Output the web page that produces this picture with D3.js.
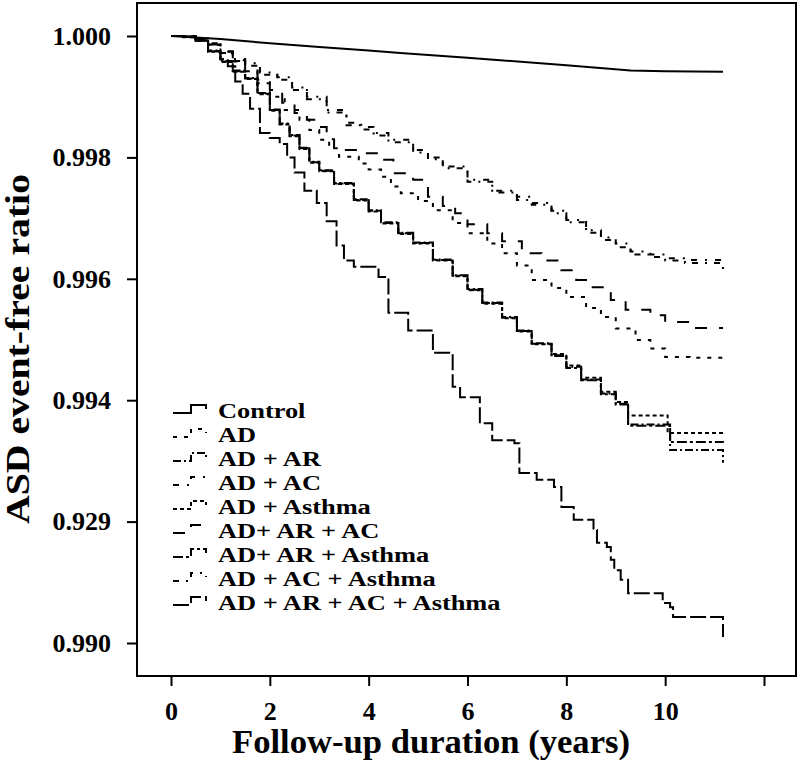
<!DOCTYPE html>
<html><head><meta charset="utf-8">
<script src="https://cdn.jsdelivr.net/npm/d3@7"></script>
<style>body{margin:0;background:#fff}</style>
</head><body>
<svg id="chart" width="800" height="762"></svg>
<script>
const xTicks = [0, 2, 4, 6, 8, 10, 12];
const xTickLabels = ["0", "2", "4", "6", "8", "10", ""];
const yTicks = [1.000, 0.998, 0.996, 0.994, 0.992, 0.990];
const yTickLabels = ["1.000", "0.998", "0.996", "0.994", "0.929", "0.990"];
const seriesNames = ["Control", "AD", "AD + AR", "AD + AC", "AD + Asthma", "AD+ AR + AC", "AD+ AR + Asthma", "AD + AC + Asthma", "AD + AR + AC + Asthma"];

const control = [[0,1.0],[1,0.99995],[2,0.99988],[3,0.99982],[4,0.99976],[4.64,0.99972],[6,0.99964],[6.66,0.99960],[8,0.99952],[9.3,0.99943],[10,0.99942],[11.17,0.99941]];
const ad = [[0,1],[0.25,0.99999],[0.5,0.99995],[0.75,0.99985],[1.0,0.99972],[1.25,0.99958],[1.5,0.99942],[1.75,0.99922],[2.0,0.99900],[2.3,0.99878],[2.6,0.99862],[2.8,0.99845],[3.0,0.99829],[3.2,0.99815],[3.4,0.99801],[3.8,0.99790],[4.0,0.99780],[4.25,0.99768],[4.45,0.99752],[4.65,0.99741],[5.0,0.99728],[5.3,0.99713],[5.7,0.99692],[6.0,0.99675],[6.4,0.99658],[6.7,0.99642],[7.0,0.99622],[7.3,0.99598],[7.7,0.99585],[8.0,0.99570],[8.4,0.99552],[8.7,0.99537],[9.0,0.99518],[9.4,0.99499],[9.7,0.99485],[10.0,0.99471],[10.5,0.99470],[11.17,0.99463]];
const adAr = [[0,1],[0.25,0.99999],[0.5,0.99993],[0.75,0.99976],[1.0,0.99959],[1.25,0.99943],[1.5,0.99931],[1.75,0.99906],[2.0,0.99879],[2.2,0.99856],[2.4,0.99837],[2.6,0.99816],[2.8,0.99793],[3.0,0.99779],[3.3,0.99758],[3.7,0.99731],[4.0,0.99713],[4.25,0.99693],[4.6,0.99676],[4.9,0.99660],[5.3,0.99632],[5.7,0.99606],[6.0,0.99583],[6.3,0.99561],[6.7,0.99537],[7.0,0.99515],[7.3,0.99494],[7.7,0.99474],[8.0,0.99455],[8.3,0.99434],[8.7,0.99411],[9.0,0.99394],[9.25,0.99360],[10.1,0.99318],[11.17,0.99297]];
const adAc = [[0,1],[0.25,0.99999],[0.5,0.99996],[0.75,0.99988],[1.0,0.99975],[1.25,0.99962],[1.5,0.99955],[1.8,0.99940],[2.15,0.99932],[2.45,0.99915],[2.75,0.99900],[3.15,0.99878],[3.55,0.99857],[3.85,0.99850],[4.1,0.99840],[4.4,0.99829],[4.9,0.99812],[5.2,0.99800],[5.5,0.99785],[6.0,0.99763],[6.5,0.99745],[7.0,0.99735],[7.3,0.99725],[7.7,0.99712],[8.0,0.99697],[8.4,0.99680],[8.7,0.99668],[9.0,0.99658],[9.3,0.99645],[9.7,0.99640],[10.0,0.99634],[10.4,0.99631],[11.17,0.99631]];
const adAsthma = [[0,1],[0.25,0.99999],[0.5,0.99992],[0.75,0.99974],[1.0,0.99957],[1.25,0.99941],[1.5,0.99929],[1.75,0.99904],[2.0,0.99877],[2.2,0.99854],[2.4,0.99835],[2.6,0.99814],[2.8,0.99791],[3.0,0.99777],[3.3,0.99756],[3.7,0.99729],[4.0,0.99711],[4.25,0.99691],[4.6,0.99674],[4.9,0.99658],[5.3,0.99630],[5.7,0.99604],[6.0,0.99581],[6.3,0.99559],[6.7,0.99535],[7.0,0.99513],[7.3,0.99492],[7.7,0.99476],[8.0,0.99457],[8.3,0.99437],[8.7,0.99414],[9.0,0.99397],[9.25,0.99375],[10.05,0.99346],[11.17,0.99346]];
const adArAc = [[0,1],[0.25,0.99999],[0.5,0.99995],[0.75,0.99986],[1.0,0.99974],[1.25,0.99960],[1.5,0.99945],[1.75,0.99928],[2.0,0.99911],[2.25,0.99890],[2.5,0.99873],[2.75,0.99862],[3.0,0.99850],[3.15,0.99830],[3.3,0.99812],[3.8,0.99807],[4.2,0.99796],[4.5,0.99774],[4.9,0.99763],[5.2,0.99735],[5.5,0.99720],[5.75,0.99708],[6.0,0.99690],[6.4,0.99675],[6.7,0.99662],[7.1,0.99642],[7.5,0.99630],[7.9,0.99614],[8.2,0.99598],[8.5,0.99586],[8.9,0.99565],[9.2,0.99549],[9.7,0.99540],[10.0,0.99529],[10.5,0.99519],[11.17,0.99519]];
const adArAsthma = [[0,1],[0.25,0.99999],[0.5,0.99992],[0.75,0.99975],[1.0,0.99958],[1.25,0.99942],[1.5,0.99930],[1.75,0.99905],[2.0,0.99878],[2.2,0.99855],[2.4,0.99836],[2.6,0.99815],[2.8,0.99792],[3.0,0.99778],[3.3,0.99757],[3.7,0.99730],[4.0,0.99712],[4.25,0.99692],[4.6,0.99675],[4.9,0.99659],[5.3,0.99631],[5.7,0.99605],[6.0,0.99582],[6.3,0.99560],[6.7,0.99536],[7.0,0.99514],[7.3,0.99493],[7.7,0.99473],[8.0,0.99453],[8.3,0.99433],[8.7,0.99410],[9.0,0.99393],[9.25,0.99358],[10.1,0.99331],[11.17,0.99330]];
const adAcAsthma = [[0,1],[0.25,0.99999],[0.5,0.99995],[0.75,0.99986],[1.0,0.99972],[1.25,0.99959],[1.5,0.99951],[1.8,0.99936],[2.15,0.99928],[2.45,0.99911],[2.75,0.99896],[3.15,0.99874],[3.55,0.99853],[3.85,0.99846],[4.1,0.99836],[4.4,0.99825],[4.9,0.99808],[5.2,0.99797],[5.5,0.99782],[6.0,0.99760],[6.5,0.99742],[7.0,0.99730],[7.3,0.99722],[7.7,0.99708],[8.0,0.99693],[8.4,0.99676],[8.7,0.99664],[9.0,0.99652],[9.3,0.99640],[9.7,0.99636],[10.0,0.99630],[10.4,0.99626],[11.17,0.99614]];
const adArAcAsthma = [[0,1],[0.25,0.99998],[0.5,0.99992],[0.75,0.99975],[1.0,0.99962],[1.15,0.99950],[1.3,0.99925],[1.45,0.99905],[1.6,0.99880],[1.8,0.99840],[2.0,0.99832],[2.2,0.99822],[2.35,0.99800],[2.5,0.99775],[2.7,0.99745],[2.95,0.99725],[3.15,0.99695],[3.35,0.99655],[3.5,0.99630],[3.7,0.99620],[4.2,0.99603],[4.4,0.99544],[4.8,0.99515],[5.3,0.99478],[5.7,0.99422],[5.85,0.99405],[6.25,0.99362],[6.5,0.99334],[6.95,0.99329],[7.05,0.99280],[7.4,0.99269],[7.75,0.99257],[7.9,0.99224],[8.15,0.99203],[8.55,0.99186],[8.62,0.99165],[8.82,0.99158],[8.9,0.99137],[8.97,0.99120],[9.1,0.99104],[9.25,0.99082],[9.95,0.99066],[10.1,0.99059],[10.16,0.99043],[11.17,0.99010]];

const seriesData = [control, ad, adAr, adAc, adAsthma, adArAc, adArAsthma, adAcAsthma, adArAcAsthma];
const dashes = ["", "4,7", "8,3,2,3", "6,8,2,8", "4,3", "12,12", "10,3,3,3", "6,7,2,7", "16,4"];

const svg = d3.select("#chart");
const font = "'Liberation Serif','Times New Roman',serif";
const frame = {x0: 137, y0: 3, x1: 796, y1: 676};
const x = d3.scaleLinear().domain([0, 12]).range([171, 764]);
const y = d3.scaleLinear().domain([0.990, 1.000]).range([643, 36]);

svg.append("rect").attr("x", frame.x0).attr("y", frame.y0)
  .attr("width", frame.x1 - frame.x0).attr("height", frame.y1 - frame.y0)
  .attr("fill", "none").attr("stroke", "#000").attr("stroke-width", 2);

const xAxis = svg.append("g").attr("transform", `translate(0,${frame.y1})`)
  .call(d3.axisBottom(x).tickValues(xTicks).tickFormat((d, i) => xTickLabels[i]).tickSize(10).tickPadding(16));
const yAxis = svg.append("g").attr("transform", `translate(${frame.x0},0)`)
  .call(d3.axisLeft(y).tickValues(yTicks).tickFormat((d, i) => yTickLabels[i]).tickSize(10).tickPadding(16));
[xAxis, yAxis].forEach(g => {
  g.select(".domain").remove();
  g.selectAll("line").attr("stroke", "#000").attr("stroke-width", 2);
  g.selectAll("text").attr("font-family", font).attr("font-weight", "bold").attr("font-size", 26).attr("fill", "#000");
});

const line = d3.line().x(d => x(d[0])).y(d => y(d[1])).curve(d3.curveStepAfter);
const lineCtl = d3.line().x(d => x(d[0])).y(d => y(d[1])).curve(d3.curveLinear);
seriesData.forEach((s, i) => {
  svg.append("path").datum(s)
    .attr("d", i === 0 ? lineCtl : line)
    .attr("fill", "none").attr("stroke", "#000").attr("stroke-width", 2)
    .attr("stroke-dasharray", dashes[i] || null);
});

// legend
seriesNames.forEach((name, i) => {
  const by = 418 + i * 24;
  const g = svg.append("g");
  g.append("path")
    .attr("d", `M173,${by - 5}H191V${by - 13}H206V${by - 9}`)
    .attr("fill", "none").attr("stroke", "#000").attr("stroke-width", 2)
    .attr("stroke-dasharray", dashes[i] || null);
  g.append("text").attr("transform", `translate(218,${by}) scale(1.2,1)`)
    .attr("font-family", font).attr("font-weight", "bold").attr("font-size", 22)
    .text(name);
});

svg.append("text").attr("x", 431).attr("y", 753).attr("text-anchor", "middle")
  .attr("font-family", font).attr("font-weight", "bold").attr("font-size", 33)
  .attr("textLength", 398).attr("lengthAdjust", "spacingAndGlyphs")
  .text("Follow-up duration (years)");
svg.append("text").attr("transform", "translate(29,349) rotate(-90)").attr("text-anchor", "middle")
  .attr("font-family", font).attr("font-weight", "bold").attr("font-size", 33)
  .attr("textLength", 350).attr("lengthAdjust", "spacingAndGlyphs")
  .text("ASD event-free ratio");
</script>
</body></html>
